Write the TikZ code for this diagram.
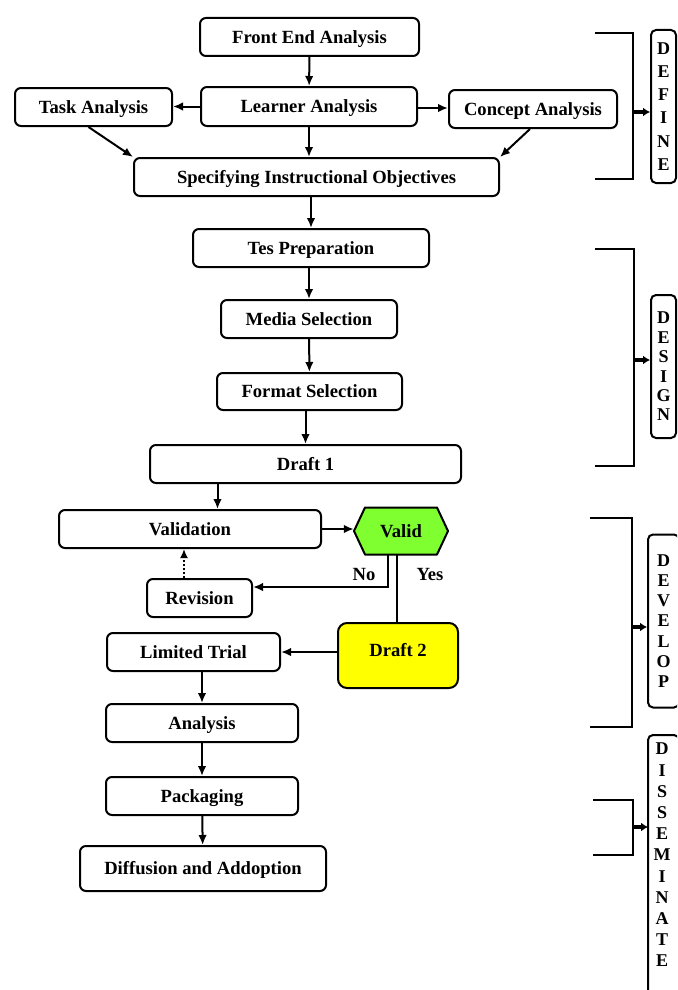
\documentclass[tikz,border=0pt]{standalone}
\usepackage{fontspec}
\setmainfont{Liberation Serif}
\usetikzlibrary{arrows.meta}
\definecolor{validgreen}{RGB}{128,255,48}
\definecolor{draftyellow}{RGB}{255,255,0}
\tikzset{
  box/.style={draw, line width=2pt, rounded corners=6pt, inner sep=0pt,
    text height=12.4pt, text depth=0pt,
    font=\bfseries\fontsize{18.6}{22}\selectfont},
  arr/.style={-{Latex[length=10pt,width=8.5pt]}, line width=2pt},
  dotarr/.style={-{Latex[length=9pt,width=8pt]}, line width=2pt, dotted},
  brline/.style={line width=2pt},
  brarr/.style={-{Latex[length=7pt,width=9pt]}, line width=3.2pt},
  lbl/.style={font=\bfseries\fontsize{18.6}{22}\selectfont, inner sep=0pt,
    text height=12.4pt, text depth=0pt},
  phase/.style={line width=2pt, rounded corners=5pt, inner sep=0pt, align=center},
}
\begin{document}
\begin{tikzpicture}[x=1pt,y=-1pt]
\useasboundingbox (0,0) rectangle (677,990);
\clip (0,0) rectangle (677,990);

% main boxes
\node[box, minimum width=219, minimum height=38] (fea) at (309.5,37) {Front End Analysis};
\node[box, minimum width=157, minimum height=38] (task) at (93.5,107) {Task Analysis};
\node[box, minimum width=216, minimum height=39] (learner) at (309,106.5) {Learner Analysis};
\node[box, minimum width=168, minimum height=38] (concept) at (533,109) {Concept Analysis};
\node[box, minimum width=365, minimum height=38] (spec) at (316.5,177) {Specifying Instructional Objectives};
\node[box, minimum width=236, minimum height=38] (tes) at (311,248) {Tes Preparation};
\node[box, minimum width=176, minimum height=38] (media) at (309,319) {Media Selection};
\node[box, minimum width=185, minimum height=37] (format) at (309.5,391.5) {Format Selection};
\node[box, minimum width=311, minimum height=38] (draft1) at (305.5,464) {Draft 1};
\node[box, minimum width=262, minimum height=38] (validation) at (190,529) {Validation};
% hexagon
\fill[validgreen] (354,531) -- (365,507.5) -- (437,507.5) -- (448,531) -- (437,554.5) -- (365,554.5) -- cycle;
\draw[line width=2pt, line join=round] (354,531) -- (365,507.5) -- (437,507.5) -- (448,531) -- (437,554.5) -- (365,554.5) -- cycle;
\node[lbl, minimum width=94, minimum height=47] (valid) at (401,531) {Valid};
\node[box, minimum width=105, minimum height=38] (revision) at (199.5,598) {Revision};
\node[box, minimum width=173, minimum height=38] (limited) at (193.5,652) {Limited Trial};
\node[box, fill=draftyellow, rounded corners=9pt, minimum width=120, minimum height=65] (draft2) at (398,655.5) {\raisebox{5pt}{Draft 2}};
\node[box, minimum width=192, minimum height=38] (analysis) at (202,723) {Analysis};
\node[box, minimum width=192, minimum height=38] (packaging) at (202,796) {Packaging};
\node[box, minimum width=246, minimum height=45] (diffusion) at (203,868.5) {Diffusion and Addoption};

\node[lbl] (no) at (364,574) {No};
\node[lbl] (yes) at (430,574) {Yes};

% connectors
\draw[arr] (fea) -- (learner);
\draw[arr] (learner.west) -- (task.east |- learner.west);
\coordinate (lc) at ([yshift=-1.5pt]learner.east);
\draw[arr] (lc) -- (concept.west |- lc);
\draw[arr] (learner.south) -- (learner.south |- spec.north);
\draw[arr] ([xshift=-5pt]task.south) -- (spec.north west);
\draw[arr] ([xshift=-3pt]concept.south) -- (spec.north east);
\draw[arr] (spec.south -| tes.north) -- (tes.north);
\draw[arr] (tes.south -| media.north) -- (media.north);
\draw[arr] (media) -- (format);
\draw[arr] (format.south -| draft1.north) -- (draft1.north);
\coordinate (d1v) at (217.5,483);
\draw[arr] (d1v) -- (d1v |- validation.north);
\draw[arr] (validation.east) -- (valid.west |- validation.east);
\draw[arr] ([xshift=-13pt]valid.south) |- ([yshift=11pt]revision.east);
\coordinate (yv) at ([xshift=-4pt]valid.south);
\draw[line width=2pt] (yv) -- (yv |- draft2.north);
\draw[dotarr] ([xshift=-15.5pt]revision.north) -- ([xshift=-6pt]validation.south);
\draw[arr] ([yshift=3.5pt]draft2.west) -- (limited.east);
\draw[arr] (limited.south -| analysis.north) -- (analysis.north);
\draw[arr] (analysis) -- (packaging);
\draw[arr] (packaging) -- (diffusion);

% phase boxes
\node[phase, draw, minimum width=25, minimum height=153,
  font=\bfseries\fontsize{18}{23.2}\selectfont] (define) at (663.5,106.5) {D\\E\\F\\I\\N\\E};
\node[phase, draw, minimum width=25, minimum height=143,
  font=\bfseries\fontsize{18}{19.4}\selectfont] (design) at (663.5,366.5) {D\\E\\S\\I\\G\\N};
\node[phase, draw, minimum width=31, minimum height=173,
  font=\bfseries\fontsize{18}{20.3}\selectfont] (develop) at (663.5,621) {D\\E\\V\\E\\L\\O\\P};
\node[phase, minimum width=31, minimum height=238,
  font=\bfseries\fontsize{18}{21.2}\selectfont] (dissem) at (662,855) {D\\I\\S\\S\\E\\M\\I\\N\\A\\T\\E};
\draw[line width=2pt, rounded corners=5pt] (679,1010) -- (679,735) -- (648,735) -- (648,1010);

% brackets
\draw[brline] (595,33) -- (633,33) -- (633,179) -- (595,179);
\coordinate (b1) at (633,112);
\draw[brarr] (b1) -- (define.west |- b1);
\draw[brline] (595,249) -- (634,249) -- (634,466) -- (595,466);
\coordinate (b2) at (634,360);
\draw[brarr] (b2) -- (design.west |- b2);
\draw[brline] (590,518) -- (632,518) -- (632,727) -- (590,727);
\coordinate (b3) at (632,627);
\draw[brarr] (b3) -- (develop.west |- b3);
\draw[brline] (593,800) -- (633,800) -- (633,855) -- (593,855);
\coordinate (b4) at (633,827);
\draw[brarr] (b4) -- (648,827);
\end{tikzpicture}
\end{document}
